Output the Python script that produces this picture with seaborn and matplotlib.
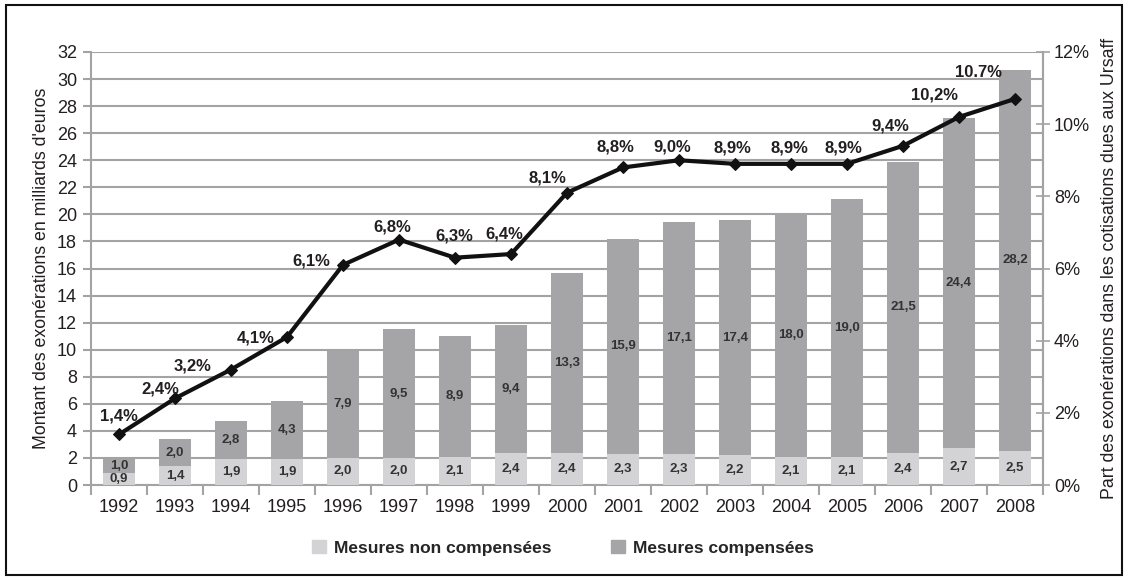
import numpy as np
import pandas as pd
import matplotlib
matplotlib.use("Agg")
import matplotlib.pyplot as plt
import seaborn as sns
from matplotlib.patches import Rectangle, Patch

years = ["1992", "1993", "1994", "1995", "1996", "1997", "1998", "1999", "2000",
         "2001", "2002", "2003", "2004", "2005", "2006", "2007", "2008"]
non_comp = [0.9, 1.4, 1.9, 1.9, 2.0, 2.0, 2.1, 2.4, 2.4, 2.3, 2.3, 2.2, 2.1, 2.1, 2.4, 2.7, 2.5]
comp = [1.0, 2.0, 2.8, 4.3, 7.9, 9.5, 8.9, 9.4, 13.3, 15.9, 17.1, 17.4, 18.0, 19.0, 21.5, 24.4, 28.2]
share = [1.4, 2.4, 3.2, 4.1, 6.1, 6.8, 6.3, 6.4, 8.1, 8.8, 9.0, 8.9, 8.9, 8.9, 9.4, 10.2, 10.7]
share_labels = ["1,4%", "2,4%", "3,2%", "4,1%", "6,1%", "6,8%", "6,3%", "6,4%", "8,1%",
                "8,8%", "9,0%", "8,9%", "8,9%", "8,9%", "9,4%", "10,2%", "10.7%"]
# label offsets in pixels (dx, dy)
label_off = [(0, 18), (-15, 9), (-38, 4), (-31, -1), (-32, 4), (-7, 13), (-1, 22), (-7, 20),
             (-20, 15), (-8, 20), (-7, 13), (-3, 16), (-2, 16), (-4, 16), (-13, 20), (-25, 22), (-37, 26)]

sns.set_theme(style="white")
plt.rcParams['font.family'] = ['Liberation Sans', 'DejaVu Sans']

LIGHT = "#d3d3d5"
DARK = "#a5a5a8"
GRID = "#a3a3a3"
TXT = "#231f20"

df = pd.DataFrame({"year": years, "non": non_comp, "comp": comp})
df["total"] = df["non"] + df["comp"]

fig = plt.figure(figsize=(11.29, 5.8), dpi=100)
ax = fig.add_axes([91/1129, 1 - 485/580, (1043-91)/1129, (485-52)/580])

sns.barplot(data=df, x="year", y="total", color=DARK, width=0.57, ax=ax,
            saturation=1, edgecolor="none", zorder=2)
sns.barplot(data=df, x="year", y="non", color=LIGHT, width=0.57, ax=ax,
            saturation=1, edgecolor="none", zorder=3)

ax.set_ylim(0, 32)
ax.set_xlim(-0.5, len(years) - 0.5)
ax.set_yticks(np.arange(0, 33, 2))
ax.yaxis.grid(True, color=GRID, lw=1.5, zorder=0)
ax.set_axisbelow(True)
ax.set_xlabel("")
ax.set_ylabel("Montant des exonérations en milliards d'euros", fontsize=12.8, color=TXT, labelpad=5)
ax.spines["top"].set_visible(False)
for s in ["left", "bottom", "right"]:
    ax.spines[s].set_color(GRID)
    ax.spines[s].set_linewidth(1.5)
ax.tick_params(axis="y", length=6, width=1.5, color=GRID, labelsize=13, labelcolor=TXT,
               direction="out", left=True, pad=4)
ax.tick_params(axis="x", which="major", length=0, labelsize=13, labelcolor=TXT, pad=10)
ax.set_xticks(np.arange(-0.5, len(years), 1.0), minor=True)
ax.tick_params(axis="x", which="minor", length=7, width=1.5, color=GRID, direction="out", bottom=True)

for i in range(len(years)):
    ax.text(i, non_comp[i] / 2, f"{non_comp[i]:.1f}".replace(".", ","), ha="center", va="center",
            fontsize=9.5, fontweight="bold", color="#333333", zorder=5)
    ax.text(i, non_comp[i] + comp[i] / 2, f"{comp[i]:.1f}".replace(".", ","), ha="center", va="center",
            fontsize=9.5, fontweight="bold", color="#333333", zorder=5)

ax2 = ax.twinx()
x = np.arange(len(years))
sns.lineplot(x=x, y=share, ax=ax2, color="#111111", lw=3, marker="D", markersize=6,
             markeredgecolor="#111111", zorder=6)
ax2.set_ylim(0, 12)
ax2.set_yticks(np.arange(0, 13, 2))
ax2.set_yticklabels([f"{v}%" for v in range(0, 13, 2)])
ax2.tick_params(axis="y", length=10, width=1.2, color=GRID, labelsize=13, labelcolor=TXT,
                direction="inout", right=True, pad=3)
ax2.set_ylabel("Part des exonérations dans les cotisations dues aux Ursaff", fontsize=12.8,
               color=TXT, labelpad=8)
for s in ["top", "left", "bottom"]:
    ax2.spines[s].set_visible(False)
ax2.spines["right"].set_color(GRID)
ax2.spines["right"].set_linewidth(1.5)
ax2.grid(False)

for i in range(len(years)):
    ax2.annotate(share_labels[i], (x[i], share[i]), xytext=label_off[i], textcoords="offset pixels",
                 ha="center", va="center", fontsize=12, fontweight="bold", color=TXT, zorder=7)

handles = [Patch(color=LIGHT, label="Mesures non compensées"),
           Patch(color=DARK, label="Mesures compensées")]
fig.legend(handles=handles, loc="center", bbox_to_anchor=(563/1129, 1 - 548/580), ncol=2,
           frameon=False, handlelength=0.8, handleheight=0.8, columnspacing=3.4,
           handletextpad=0.5, prop={"size": 12.5, "weight": "bold"})

fig.add_artist(Rectangle((6/1129, 5/580), 1116/1129, 570/580, transform=fig.transFigure,
                         fill=False, edgecolor="#111111", lw=1.5))

fig.savefig("out.png", dpi=100)
